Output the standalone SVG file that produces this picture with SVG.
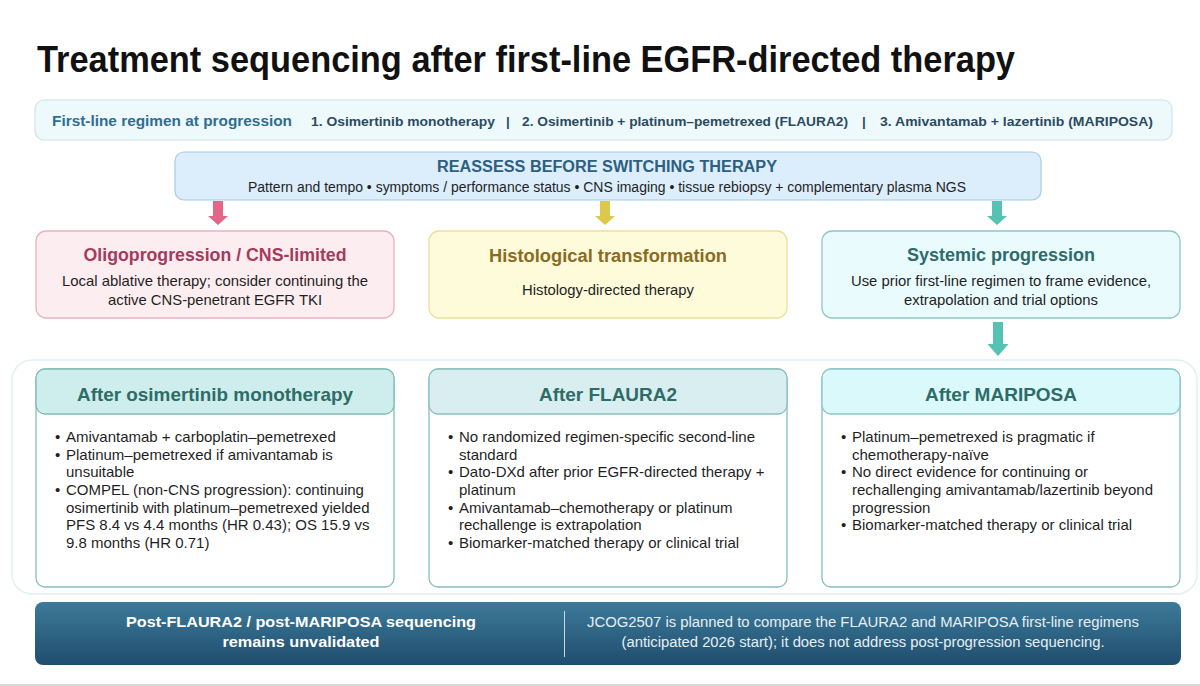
<svg xmlns="http://www.w3.org/2000/svg" width="1200" height="686" viewBox="0 0 1200 686">
<defs>
<linearGradient id="gBottom" x1="0" y1="0" x2="0" y2="1">
<stop offset="0" stop-color="#3d7a9a"/>
<stop offset="1" stop-color="#1f4d6d"/>
</linearGradient>
<style>
text{font-family:"Liberation Sans",Arial,sans-serif;}
.b{font-weight:bold;}
.mid{text-anchor:middle;}
.body{font-size:15px;fill:#1f1f1f;}
.sub{font-size:14px;fill:#1f1f1f;}
.reg{font-size:13.5px;font-weight:bold;fill:#2c4b60;}
.ctitle{font-size:19px;font-weight:bold;fill:#2f6b67;text-anchor:middle;}
.btitle{font-size:18px;font-weight:bold;text-anchor:middle;}
.card{fill:#ffffff;stroke:#86bfbb;stroke-width:1.3;}
</style>
</defs>
<rect x="0" y="0" width="1200" height="686" fill="#ffffff"/>
<rect x="0" y="684" width="1200" height="2" fill="#d9d9d9"/>

<g id="title">
<text x="37" y="72" class="b" font-size="36" fill="#111111" textLength="978" lengthAdjust="spacingAndGlyphs">Treatment sequencing after first-line EGFR-directed therapy</text>
</g>

<g id="first-line">
<rect x="35" y="100" width="1137" height="40" rx="9" fill="#eef9fc" stroke="#cae4ee" stroke-width="1.2"/>
<text x="52" y="126" class="b" font-size="15" fill="#2f6e92" textLength="240" lengthAdjust="spacingAndGlyphs">First-line regimen at progression</text>
<text x="311" y="126" class="reg" textLength="184" lengthAdjust="spacingAndGlyphs">1. Osimertinib monotherapy</text>
<text x="508" y="126" class="reg mid">|</text>
<text x="522" y="126" class="reg" textLength="326" lengthAdjust="spacingAndGlyphs">2. Osimertinib + platinum–pemetrexed (FLAURA2)</text>
<text x="864" y="126" class="reg mid">|</text>
<text x="880" y="126" class="reg" textLength="273" lengthAdjust="spacingAndGlyphs">3. Amivantamab + lazertinib (MARIPOSA)</text>
</g>

<g id="reassess">
<rect x="175" y="152" width="866" height="48" rx="9" fill="#dcedfb" stroke="#a5cbe5" stroke-width="1.2"/>
<text x="607" y="172" class="b mid" font-size="16" fill="#2d5f80" textLength="340" lengthAdjust="spacingAndGlyphs">REASSESS BEFORE SWITCHING THERAPY</text>
<text x="607" y="192" class="sub mid" textLength="718" lengthAdjust="spacingAndGlyphs">Pattern and tempo • symptoms / performance status • CNS imaging • tissue rebiopsy + complementary plasma NGS</text>
</g>

<g id="connectors">
<path d="M213 201 H223 V216 H228 L218 225 L208 216 H213 Z" fill="#e3668a"/>
<path d="M600 201 H610 V216 H615 L605 225 L595 216 H600 Z" fill="#dcc84a"/>
<path d="M992 201 H1002 V216 H1007 L997 225 L987 216 H992 Z" fill="#55c2b4"/>
<path d="M993 322 H1003 V344 H1008.5 L998 356 L987.5 344 H993 Z" fill="#55c2b4"/>
</g>

<g id="oligoprogression">
<rect x="36" y="231" width="358" height="87" rx="10" fill="#fcedf0" stroke="#eab0c0" stroke-width="1.3"/>
<text x="215" y="261" class="btitle" fill="#a63a5e" textLength="263" lengthAdjust="spacingAndGlyphs">Oligoprogression / CNS-limited</text>
<text x="215" y="286" class="body mid" textLength="306" lengthAdjust="spacingAndGlyphs">Local ablative therapy; consider continuing the</text>
<text x="215" y="305" class="body mid" textLength="214" lengthAdjust="spacingAndGlyphs">active CNS-penetrant EGFR TKI</text>
</g>

<g id="histological">
<rect x="429" y="231" width="358" height="87" rx="10" fill="#fdfbda" stroke="#ebdf98" stroke-width="1.3"/>
<text x="608" y="262" class="btitle" fill="#8b6b24" textLength="238" lengthAdjust="spacingAndGlyphs">Histological transformation</text>
<text x="608" y="295" class="body mid" textLength="172" lengthAdjust="spacingAndGlyphs">Histology-directed therapy</text>
</g>

<g id="systemic">
<rect x="822" y="231" width="358" height="87" rx="10" fill="#e9fbfd" stroke="#8ec6ca" stroke-width="1.3"/>
<text x="1001" y="261" class="btitle" fill="#2f6b6a" textLength="188" lengthAdjust="spacingAndGlyphs">Systemic progression</text>
<text x="1001" y="286" class="body mid" textLength="300" lengthAdjust="spacingAndGlyphs">Use prior first-line regimen to frame evidence,</text>
<text x="1001" y="305" class="body mid" textLength="194" lengthAdjust="spacingAndGlyphs">extrapolation and trial options</text>
</g>

<g id="container">
<rect x="12" y="360" width="1185" height="234" rx="20" fill="#ffffff" stroke="#e3eff3" stroke-width="1.5"/>
</g>

<g id="after-osimertinib">
<rect class="card" x="36" y="369" width="358" height="218" rx="9"/>
<rect x="36" y="369" width="358" height="45" rx="9" fill="#cdeeec" stroke="#80bcb6" stroke-width="1.3"/>
<text x="215" y="401" class="ctitle" textLength="276" lengthAdjust="spacingAndGlyphs">After osimertinib monotherapy</text>
<g class="body">
<text x="55" y="442">•</text><text x="66" y="442">Amivantamab + carboplatin–pemetrexed</text>
<text x="55" y="460">•</text><text x="66" y="460">Platinum–pemetrexed if amivantamab is</text>
<text x="66" y="477">unsuitable</text>
<text x="55" y="495">•</text><text x="66" y="495">COMPEL (non-CNS progression): continuing</text>
<text x="66" y="513">osimertinib with platinum–pemetrexed yielded</text>
<text x="66" y="530">PFS 8.4 vs 4.4 months (HR 0.43); OS 15.9 vs</text>
<text x="66" y="548">9.8 months (HR 0.71)</text>
</g>
</g>

<g id="after-flaura2">
<rect class="card" x="429" y="369" width="358" height="218" rx="9"/>
<rect x="429" y="369" width="358" height="45" rx="9" fill="#d9eef0" stroke="#8abebf" stroke-width="1.3"/>
<text x="608" y="401" class="ctitle" textLength="138" lengthAdjust="spacingAndGlyphs">After FLAURA2</text>
<g class="body">
<text x="448" y="442">•</text><text x="459" y="442">No randomized regimen-specific second-line</text>
<text x="459" y="460">standard</text>
<text x="448" y="477">•</text><text x="459" y="477">Dato-DXd after prior EGFR-directed therapy +</text>
<text x="459" y="495">platinum</text>
<text x="448" y="513">•</text><text x="459" y="513">Amivantamab–chemotherapy or platinum</text>
<text x="459" y="530">rechallenge is extrapolation</text>
<text x="448" y="548">•</text><text x="459" y="548">Biomarker-matched therapy or clinical trial</text>
</g>
</g>

<g id="after-mariposa">
<rect class="card" x="822" y="369" width="358" height="218" rx="9" stroke="#8ec6ca"/>
<rect x="822" y="369" width="358" height="45" rx="9" fill="#d9f9fb" stroke="#8ec6ca" stroke-width="1.3"/>
<text x="1001" y="401" class="ctitle" textLength="152" lengthAdjust="spacingAndGlyphs">After MARIPOSA</text>
<g class="body">
<text x="841" y="442">•</text><text x="852" y="442">Platinum–pemetrexed is pragmatic if</text>
<text x="852" y="460">chemotherapy-naïve</text>
<text x="841" y="477">•</text><text x="852" y="477">No direct evidence for continuing or</text>
<text x="852" y="495">rechallenging amivantamab/lazertinib beyond</text>
<text x="852" y="513">progression</text>
<text x="841" y="530">•</text><text x="852" y="530">Biomarker-matched therapy or clinical trial</text>
</g>
</g>

<g id="bottom-note">
<rect x="35" y="602" width="1146" height="63" rx="8" fill="url(#gBottom)"/>
<text x="301" y="627" class="b mid" font-size="15.5" fill="#ffffff" textLength="350" lengthAdjust="spacingAndGlyphs">Post-FLAURA2 / post-MARIPOSA sequencing</text>
<text x="301" y="647" class="b mid" font-size="15.5" fill="#ffffff" textLength="157" lengthAdjust="spacingAndGlyphs">remains unvalidated</text>
<line x1="564.5" y1="611" x2="564.5" y2="657" stroke="#c6d8e4" stroke-width="1"/>
<text x="863" y="627" class="mid" font-size="14" fill="#e6eff5" textLength="552" lengthAdjust="spacingAndGlyphs">JCOG2507 is planned to compare the FLAURA2 and MARIPOSA first-line regimens</text>
<text x="863" y="647" class="mid" font-size="14" fill="#e6eff5" textLength="483" lengthAdjust="spacingAndGlyphs">(anticipated 2026 start); it does not address post-progression sequencing.</text>
</g>
</svg>
